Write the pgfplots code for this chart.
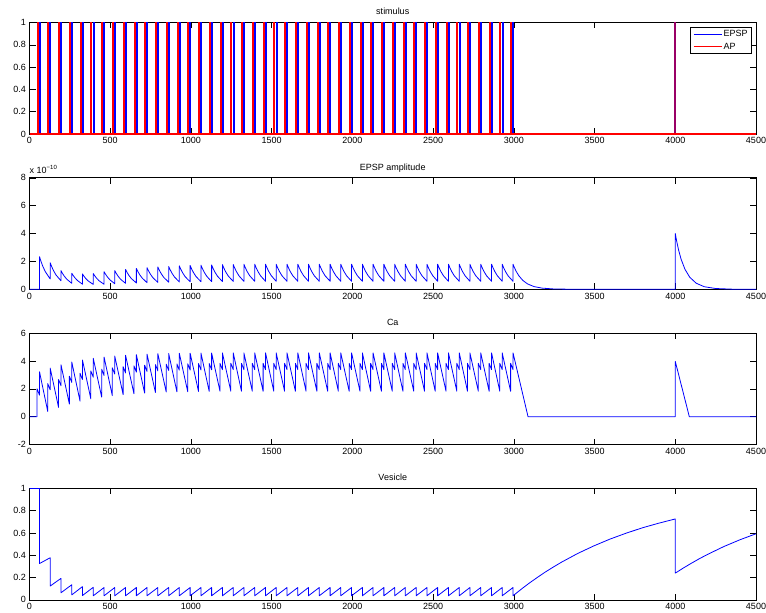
\documentclass[border=0pt]{standalone}
\usepackage{fontspec}
\setmainfont{Liberation Sans}
\usepackage{pgfplots}
\pgfplotsset{compat=1.18}
\pgfplotsset{
  mstyle/.style={
    scale only axis, width=726.5pt, height=111.5pt,
    anchor=south west,
    xmin=0, xmax=4500, xtick={0,500,1000,1500,2000,2500,3000,3500,4000,4500},
    tick align=inside,
    major tick length=6pt,
    axis line style={line width=0.7pt},
    tick style={black, line width=0.5pt},
    tick label style={font=\fontsize{9}{10}\selectfont},
    /pgf/number format/assume math mode=true,
    /pgf/number format/1000 sep={},
    scaled ticks=false,
    title style={at={(0.5,1)}, anchor=base, yshift=1.5pt, font=\fontsize{9}{10}\selectfont, inner sep=0pt},
    every axis plot/.append style={line join=round},
  }
}
\begin{document}
\begin{tikzpicture}
\path[use as bounding box] (0,0) rectangle (766pt,613pt);

% ---------------- stimulus ----------------
\begin{axis}[mstyle, at={(29.5pt,479pt)}, ymin=0, ymax=1,
  ytick={0,0.2,0.4,0.6,0.8,1}, title={stimulus}, clip=false,
  legend style={at={(0.9945,0.958)}, anchor=north east, draw=black, line width=0.7pt,
    font=\fontsize{9}{10}\selectfont, inner xsep=2.5pt, inner ysep=1.5pt, row sep=1.5pt,
    cells={anchor=west}, nodes={inner sep=1.5pt}},
  legend image code/.code={\draw[#1, line width=1.1pt] (0pt,0pt) -- (28pt,0pt);}]
\addlegendimage{blue}\addlegendentry{EPSP}
\addlegendimage{red}\addlegendentry{AP}
\addplot[blue, ycomb, line width=2pt, forget plot] coordinates {
(64,1)(130,1)(197,1)(264,1)(330,1)(397,1)(464,1)(530,1)(597,1)(664,1)
(730,1)(797,1)(864,1)(930,1)(997,1)(1064,1)(1130,1)(1197,1)(1264,1)(1330,1)
(1397,1)(1464,1)(1530,1)(1597,1)(1664,1)(1730,1)(1797,1)(1864,1)(1930,1)(1997,1)
(2064,1)(2130,1)(2197,1)(2264,1)(2330,1)(2397,1)(2464,1)(2530,1)(2597,1)(2664,1)
(2730,1)(2797,1)(2864,1)(2930,1)(2997,1)};
\addplot[red, ycomb, line width=2pt, forget plot] coordinates {
(51,1)(117,1)(184,1)(251,1)(317,1)(384,1)(451,1)(517,1)(584,1)(651,1)
(717,1)(784,1)(851,1)(917,1)(984,1)(1051,1)(1117,1)(1184,1)(1251,1)(1317,1)
(1384,1)(1451,1)(1517,1)(1584,1)(1651,1)(1717,1)(1784,1)(1851,1)(1917,1)(1984,1)
(2051,1)(2117,1)(2184,1)(2251,1)(2317,1)(2384,1)(2451,1)(2517,1)(2584,1)(2651,1)
(2717,1)(2784,1)(2851,1)(2917,1)(2984,1)};
\addplot[blue, line width=2pt, forget plot] coordinates {(4000,0)(4000,1)};
\addplot[red, opacity=0.6, line width=2pt, forget plot] coordinates {(4000,0)(4000,1)};
\addplot[red, line width=1.2pt, forget plot] coordinates {(0,0)(4500,0)};
\end{axis}

% ---------------- EPSP amplitude ----------------
\begin{axis}[mstyle, name=ax2, at={(29.5pt,323.7pt)}, ymin=0, ymax=8,
  ytick={0,2,4,6,8}, title={EPSP amplitude}]
\addplot[blue, line width=0.8pt] coordinates {
(0,0)(62,0)(62,2.34)(70,2.040)(82,1.661)(98,1.264)
(128,0.746)(128,1.91)(136,1.666)(148,1.356)(164,1.031)
(195,0.609)(195,1.34)(203,1.168)(215,0.951)(231,0.724)
(262,0.427)(262,1.15)(270,1.003)(282,0.817)(298,0.621)
(328,0.367)(328,1.10)(336,0.959)(348,0.781)(364,0.594)
(395,0.351)(395,1.13)(403,0.985)(415,0.802)(431,0.610)
(462,0.360)(462,1.26)(470,1.099)(482,0.895)(498,0.680)
(528,0.402)(528,1.34)(536,1.168)(548,0.951)(564,0.724)
(595,0.427)(595,1.42)(603,1.238)(615,1.008)(631,0.767)
(662,0.453)(662,1.49)(670,1.299)(682,1.058)(698,0.805)
(728,0.475)(728,1.55)(736,1.352)(748,1.101)(764,0.837)
(795,0.494)(795,1.60)(803,1.395)(815,1.136)(831,0.864)
(862,0.510)(862,1.64)(870,1.430)(882,1.164)(898,0.886)
(928,0.523)(928,1.68)(936,1.465)(948,1.193)(964,0.907)
(995,0.536)(995,1.71)(1003,1.491)(1015,1.214)(1031,0.923)
(1062,0.545)(1062,1.73)(1070,1.509)(1082,1.228)(1098,0.934)
(1128,0.552)(1128,1.75)(1136,1.526)(1148,1.243)(1164,0.945)
(1195,0.558)(1195,1.77)(1203,1.543)(1215,1.257)(1231,0.956)
(1262,0.565)(1262,1.78)(1270,1.552)(1282,1.264)(1298,0.961)
(1328,0.568)(1328,1.80)(1336,1.570)(1348,1.278)(1364,0.972)
(1395,0.574)(1395,1.80)(1403,1.570)(1415,1.278)(1431,0.972)
(1462,0.574)(1462,1.80)(1470,1.570)(1482,1.278)(1498,0.972)
(1528,0.574)(1528,1.80)(1536,1.570)(1548,1.278)(1564,0.972)
(1595,0.574)(1595,1.80)(1603,1.570)(1615,1.278)(1631,0.972)
(1662,0.574)(1662,1.80)(1670,1.570)(1682,1.278)(1698,0.972)
(1728,0.574)(1728,1.80)(1736,1.570)(1748,1.278)(1764,0.972)
(1795,0.574)(1795,1.80)(1803,1.570)(1815,1.278)(1831,0.972)
(1862,0.574)(1862,1.80)(1870,1.570)(1882,1.278)(1898,0.972)
(1928,0.574)(1928,1.80)(1936,1.570)(1948,1.278)(1964,0.972)
(1995,0.574)(1995,1.80)(2003,1.570)(2015,1.278)(2031,0.972)
(2062,0.574)(2062,1.80)(2070,1.570)(2082,1.278)(2098,0.972)
(2128,0.574)(2128,1.80)(2136,1.570)(2148,1.278)(2164,0.972)
(2195,0.574)(2195,1.80)(2203,1.570)(2215,1.278)(2231,0.972)
(2262,0.574)(2262,1.80)(2270,1.570)(2282,1.278)(2298,0.972)
(2328,0.574)(2328,1.80)(2336,1.570)(2348,1.278)(2364,0.972)
(2395,0.574)(2395,1.80)(2403,1.570)(2415,1.278)(2431,0.972)
(2462,0.574)(2462,1.80)(2470,1.570)(2482,1.278)(2498,0.972)
(2528,0.574)(2528,1.80)(2536,1.570)(2548,1.278)(2564,0.972)
(2595,0.574)(2595,1.80)(2603,1.570)(2615,1.278)(2631,0.972)
(2662,0.574)(2662,1.80)(2670,1.570)(2682,1.278)(2698,0.972)
(2728,0.574)(2728,1.80)(2736,1.570)(2748,1.278)(2764,0.972)
(2795,0.574)(2795,1.80)(2803,1.570)(2815,1.278)(2831,0.972)
(2862,0.574)(2862,1.80)(2870,1.570)(2882,1.278)(2898,0.972)
(2928,0.574)(2928,1.80)(2936,1.570)(2948,1.278)(2964,0.972)
(2995,0.574)(2995,1.80)(3003,1.570)(3015,1.278)(3031,0.972)
(3055,0.645)(3085,0.386)(3125,0.195)(3175,0.083)(3245,0.025)(3345,0.005)(3500,0)
(4000,0)(4000,4.0)(4008,3.488)(4020,2.84)(4036,2.16)(4060,1.434)(4090,0.859)
(4130,0.433)(4180,0.184)(4250,0.056)(4350,0.010)(4450,0)(4500,0)};
\end{axis}
\node[anchor=base west, inner sep=0pt, font=\fontsize{9}{10}\selectfont] at ([yshift=4pt]ax2.north west) {x 10\textsuperscript{\fontsize{6}{7}\selectfont −10}};

% ---------------- Ca ----------------
\begin{axis}[mstyle, at={(29.5pt,168.4pt)}, ymin=-2, ymax=6,
  ytick={-2,0,2,4,6}, title={Ca}]
\addplot[blue, line width=0.8pt] coordinates {
(0,0)(47,0)(47,2.00)(62,1.55)(62,3.22)
(113,0.38)(113,2.38)(128,1.93)(128,3.49)
(180,0.67)(180,2.67)(195,2.22)(195,3.73)
(247,0.91)(247,2.91)(262,2.46)(262,3.92)
(313,1.12)(313,3.12)(328,2.67)(328,4.07)
(380,1.28)(380,3.28)(395,2.83)(395,4.19)
(447,1.41)(447,3.41)(462,2.96)(462,4.28)
(513,1.51)(513,3.51)(528,3.06)(528,4.35)
(580,1.59)(580,3.59)(595,3.14)(595,4.41)
(647,1.65)(647,3.65)(662,3.20)(662,4.45)
(713,1.70)(713,3.70)(728,3.25)(728,4.49)
(780,1.74)(780,3.74)(795,3.29)(795,4.52)
(847,1.77)(847,3.77)(862,3.32)(862,4.54)
(913,1.79)(913,3.79)(928,3.34)(928,4.55)
(980,1.80)(980,3.80)(995,3.35)(995,4.56)
(1047,1.81)(1047,3.81)(1062,3.36)(1062,4.57)
(1113,1.82)(1113,3.82)(1128,3.37)(1128,4.57)
(1180,1.83)(1180,3.83)(1195,3.38)(1195,4.58)
(1247,1.83)(1247,3.83)(1262,3.38)(1262,4.58)
(1313,1.83)(1313,3.83)(1328,3.38)(1328,4.58)
(1380,1.83)(1380,3.83)(1395,3.38)(1395,4.58)
(1447,1.83)(1447,3.83)(1462,3.38)(1462,4.58)
(1513,1.83)(1513,3.83)(1528,3.38)(1528,4.58)
(1580,1.83)(1580,3.83)(1595,3.38)(1595,4.58)
(1647,1.83)(1647,3.83)(1662,3.38)(1662,4.58)
(1713,1.83)(1713,3.83)(1728,3.38)(1728,4.58)
(1780,1.83)(1780,3.83)(1795,3.38)(1795,4.58)
(1847,1.83)(1847,3.83)(1862,3.38)(1862,4.58)
(1913,1.83)(1913,3.83)(1928,3.38)(1928,4.58)
(1980,1.83)(1980,3.83)(1995,3.38)(1995,4.58)
(2047,1.83)(2047,3.83)(2062,3.38)(2062,4.58)
(2113,1.83)(2113,3.83)(2128,3.38)(2128,4.58)
(2180,1.83)(2180,3.83)(2195,3.38)(2195,4.58)
(2247,1.83)(2247,3.83)(2262,3.38)(2262,4.58)
(2313,1.83)(2313,3.83)(2328,3.38)(2328,4.58)
(2380,1.83)(2380,3.83)(2395,3.38)(2395,4.58)
(2447,1.83)(2447,3.83)(2462,3.38)(2462,4.58)
(2513,1.83)(2513,3.83)(2528,3.38)(2528,4.58)
(2580,1.83)(2580,3.83)(2595,3.38)(2595,4.58)
(2647,1.83)(2647,3.83)(2662,3.38)(2662,4.58)
(2713,1.83)(2713,3.83)(2728,3.38)(2728,4.58)
(2780,1.83)(2780,3.83)(2795,3.38)(2795,4.58)
(2847,1.83)(2847,3.83)(2862,3.38)(2862,4.58)
(2913,1.83)(2913,3.83)(2928,3.38)(2928,4.58)
(2980,1.83)(2980,3.83)(2995,3.38)(2995,4.58)
(3088,0)(4000,0)(4000,3.97)(4087,0)(4500,0)};
\end{axis}

% ---------------- Vesicle ----------------
\begin{axis}[mstyle, at={(29.5pt,13.1pt)}, ymin=0, ymax=1,
  ytick={0,0.2,0.4,0.6,0.8,1}, title={Vesicle}]
\addplot[blue, line width=0.8pt] coordinates {
(0,1)(62,1)(62,0.326)(128,0.378)(128,0.124)(195,0.193)(195,0.064)
(262,0.136)(262,0.045)(328,0.119)(328,0.039)(395,0.113)(395,0.037)
(462,0.111)(462,0.037)(528,0.111)(528,0.037)(595,0.111)(595,0.037)
(662,0.111)(662,0.037)(728,0.111)(728,0.037)(795,0.111)(795,0.037)
(862,0.111)(862,0.037)(928,0.111)(928,0.037)(995,0.111)(995,0.037)
(1062,0.111)(1062,0.037)(1128,0.111)(1128,0.037)(1195,0.111)(1195,0.037)
(1262,0.111)(1262,0.037)(1328,0.111)(1328,0.037)(1395,0.111)(1395,0.037)
(1462,0.111)(1462,0.037)(1528,0.111)(1528,0.037)(1595,0.111)(1595,0.037)
(1662,0.111)(1662,0.037)(1728,0.111)(1728,0.037)(1795,0.111)(1795,0.037)
(1862,0.111)(1862,0.037)(1928,0.111)(1928,0.037)(1995,0.111)(1995,0.037)
(2062,0.111)(2062,0.037)(2128,0.111)(2128,0.037)(2195,0.111)(2195,0.037)
(2262,0.111)(2262,0.037)(2328,0.111)(2328,0.037)(2395,0.111)(2395,0.037)
(2462,0.111)(2462,0.037)(2528,0.111)(2528,0.037)(2595,0.111)(2595,0.037)
(2662,0.111)(2662,0.037)(2728,0.111)(2728,0.037)(2795,0.111)(2795,0.037)
(2862,0.111)(2862,0.037)(2928,0.111)(2928,0.037)(2995,0.111)(2995,0.037)
(3045,0.095)(3095,0.150)(3145,0.201)(3195,0.250)(3245,0.295)(3295,0.338)
(3395,0.416)(3495,0.484)(3595,0.545)(3695,0.598)(3795,0.646)(3895,0.687)
(4000,0.726)(4000,0.240)(4050,0.286)(4100,0.329)(4150,0.370)(4200,0.408)
(4300,0.478)(4400,0.539)(4500,0.593)};
\end{axis}
\end{tikzpicture}
\end{document}
